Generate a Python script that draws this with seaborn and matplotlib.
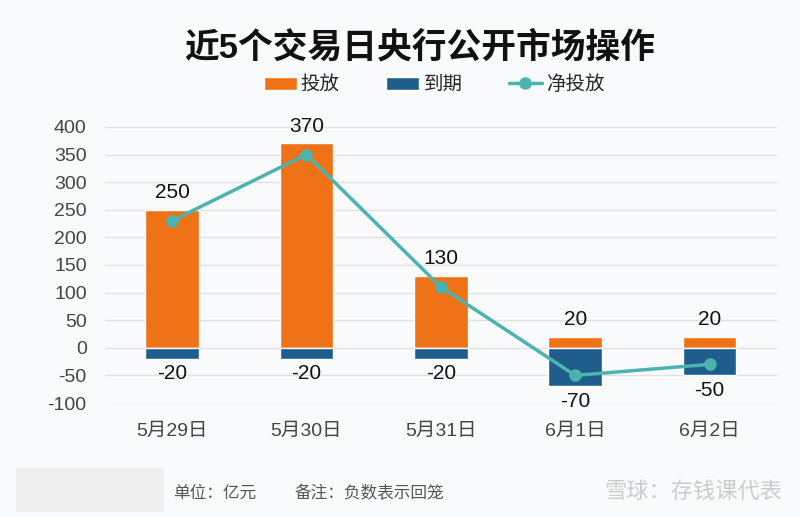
import pandas as pd
import matplotlib.pyplot as plt
import seaborn as sns
from matplotlib.patches import Rectangle

# data (亿元)
dates = ['5月29日', '5月30日', '5月31日', '6月1日', '6月2日']
tou_fang = [250, 370, 130, 20, 20]
dao_qi = [-20, -20, -20, -70, -50]
jing_tou_fang = [230, 350, 110, -50, -30]

c_orange = '#EF7216'
c_blue = '#1F5E8C'
c_teal = '#4DB3AF'
bg = '#F9FAFB'

sns.set_theme(style='white')
plt.rcParams['font.family'] = ['Liberation Sans', 'Noto Sans CJK SC', 'DejaVu Sans']
plt.rcParams['axes.unicode_minus'] = False

df = pd.DataFrame({'日期': dates, '投放': tou_fang, '到期': dao_qi, '净投放': jing_tou_fang})

fig = plt.figure(figsize=(8, 5.17), dpi=100, facecolor=bg)
ax = fig.add_axes([0.131, 0.2205, 0.84, 0.534])
ax.set_facecolor(bg)

sns.barplot(data=df, x='日期', y='投放', color=c_orange, width=0.4,
            saturation=1, ax=ax, label='投放', zorder=2)
sns.barplot(data=df, x='日期', y='到期', color=c_blue, width=0.4,
            saturation=1, ax=ax, label='到期', zorder=2)
sns.lineplot(data=df, x='日期', y='净投放', color=c_teal, linewidth=2.5,
             marker='o', markersize=9, markeredgewidth=0, sort=False,
             ax=ax, label='净投放', zorder=3)

# data labels
for i, v in enumerate(tou_fang):
    ax.text(i, v + 14, str(v), ha='center', va='bottom', fontsize=15, color='#111111')
for i, v in enumerate(dao_qi):
    ax.text(i, v - 10, str(v), ha='center', va='top', fontsize=15, color='#111111')

ax.set_ylim(-100, 400)
ax.set_xlim(-0.5, 4.5)
ax.set_yticks(range(-100, 401, 50))
ax.yaxis.grid(True, color='#DEE1E4', linewidth=1)
ax.set_axisbelow(True)
for s in ax.spines.values():
    s.set_visible(False)
ax.tick_params(axis='y', length=0, labelsize=14, colors='#444444', pad=13)
ax.tick_params(axis='x', length=0, labelsize=14, colors='#444444', pad=14)
ax.set_xlabel('')
ax.set_ylabel('')

handles, labels = ax.get_legend_handles_labels()
order = [labels.index(n) for n in ['投放', '到期', '净投放']]
ax.legend([handles[k] for k in order], [labels[k] for k in order],
          loc='lower center', bbox_to_anchor=(0.49, 1.055), ncol=3, frameon=False,
          fontsize=14, handlelength=1.7, columnspacing=2.4, handletextpad=0.2)

fig.text(0.525, 0.908, '近5个交易日央行公开市场操作', ha='center', va='center',
         fontsize=25, fontweight='bold', color='#111111')

# footer
fig.patches.append(Rectangle((0.02, 0.01), 0.185, 0.085, transform=fig.transFigure,
                             facecolor='#EFEFEF', edgecolor='none'))
fig.text(0.217, 0.047, '单位：亿元', ha='left', va='center', fontsize=12, color='#555555')
fig.text(0.368, 0.047, '备注：负数表示回笼', ha='left', va='center', fontsize=12, color='#555555')
fig.text(0.978, 0.047, '雪球：存钱课代表', ha='right', va='center', fontsize=16,
         color='#CCCCCC')

fig.savefig('out.png', dpi=100, facecolor=bg)
